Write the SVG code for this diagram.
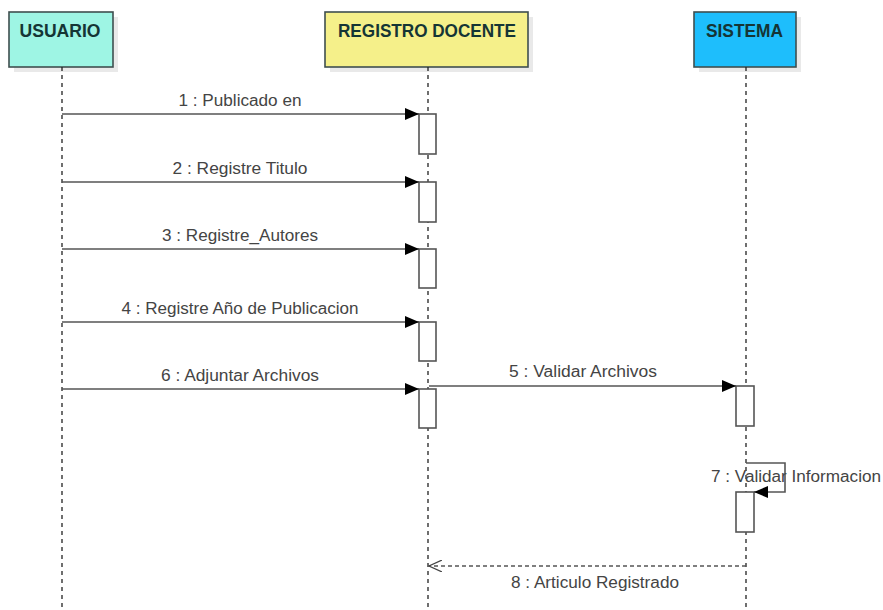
<svg xmlns="http://www.w3.org/2000/svg" width="883" height="610" viewBox="0 0 883 610">
  <defs>
    <marker id="filled" markerWidth="14" markerHeight="12" refX="14" refY="6" orient="auto" markerUnits="userSpaceOnUse">
      <path d="M0,0 L14,6 L0,12 Z" fill="#000"/>
    </marker>
    <marker id="open" markerWidth="14" markerHeight="12" refX="13" refY="6" orient="auto" markerUnits="userSpaceOnUse">
      <path d="M0,0 L13,6 L0,12" fill="none" stroke="#444" stroke-width="1.2"/>
    </marker>
  </defs>
  <style>
    .shadow { fill: #e9e9e9; }
    .head { stroke: #3f4f4f; stroke-width: 1.6; }
    .title { font-family: "Liberation Sans", Arial, sans-serif; font-size: 18px; font-weight: bold; text-anchor: middle; fill: #153535; }
    .life { stroke: #222; stroke-width: 1.3; stroke-dasharray: 4 4; fill: none; }
    .act { fill: #fff; stroke: #555; stroke-width: 1.6; }
    .msg { stroke: #555; stroke-width: 1.6; fill: none; }
    .ret { stroke: #555; stroke-width: 1.3; stroke-dasharray: 4 3; fill: none; }
    .lbl { font-family: "Liberation Sans", Arial, sans-serif; font-size: 16px; fill: #444; text-anchor: middle; }
  </style>
  <rect width="883" height="610" fill="#fff"/>

  <!-- lifeline heads -->
  <g id="usuario">
    <rect class="shadow" x="14" y="17" width="104" height="55"/>
    <rect class="head" x="9" y="12" width="104" height="55" fill="#9ef5e4"/>
    <text class="title" x="60" y="36.5" textLength="81" lengthAdjust="spacingAndGlyphs">USUARIO</text>
    <line class="life" x1="62" y1="67" x2="62" y2="610"/>
  </g>
  <g id="registro-docente">
    <rect class="shadow" x="330" y="17" width="203" height="55"/>
    <rect class="head" x="325" y="12" width="203" height="55" fill="#f5f08a"/>
    <text class="title" x="427" y="36.5" textLength="178" lengthAdjust="spacingAndGlyphs">REGISTRO DOCENTE</text>
    <line class="life" x1="428" y1="67" x2="428" y2="610"/>
  </g>
  <g id="sistema">
    <rect class="shadow" x="699" y="17" width="102" height="55"/>
    <rect class="head" x="694" y="12" width="102" height="55" fill="#1ebefc"/>
    <text class="title" x="744.5" y="36.5" textLength="77" lengthAdjust="spacingAndGlyphs">SISTEMA</text>
    <line class="life" x1="746" y1="67" x2="746" y2="610"/>
  </g>

  <!-- activation bars -->
  <g id="activations">
    <rect class="act" x="419" y="114" width="17" height="40"/>
    <rect class="act" x="419" y="182" width="17" height="40"/>
    <rect class="act" x="419" y="249" width="17" height="39"/>
    <rect class="act" x="419" y="322" width="17" height="39"/>
    <rect class="act" x="419" y="389" width="17" height="39"/>
    <rect class="act" x="736" y="386" width="18" height="40"/>
    <rect class="act" x="736" y="492" width="18" height="40"/>
  </g>

  <!-- messages -->
  <g id="connectors">
    <line class="msg" x1="62" y1="114" x2="419" y2="114" marker-end="url(#filled)"/>
    <line class="msg" x1="62" y1="182" x2="419" y2="182" marker-end="url(#filled)"/>
    <line class="msg" x1="62" y1="249" x2="419" y2="249" marker-end="url(#filled)"/>
    <line class="msg" x1="62" y1="322" x2="419" y2="322" marker-end="url(#filled)"/>
    <line class="msg" x1="62" y1="389" x2="419" y2="389" marker-end="url(#filled)"/>
    <line class="msg" x1="429" y1="386" x2="736" y2="386" marker-end="url(#filled)"/>
    <path class="msg" d="M746,463 H785 V492 H754" marker-end="url(#filled)"/>
    <line class="ret" x1="746" y1="566" x2="429" y2="566" marker-end="url(#open)"/>
  </g>

  <!-- message labels -->
  <g id="labels">
    <text class="lbl" x="240" y="106" textLength="123" lengthAdjust="spacingAndGlyphs">1 : Publicado en</text>
    <text class="lbl" x="240" y="174" textLength="135" lengthAdjust="spacingAndGlyphs">2 : Registre Titulo</text>
    <text class="lbl" x="240" y="241" textLength="156" lengthAdjust="spacingAndGlyphs">3 : Registre_Autores</text>
    <text class="lbl" x="240" y="314" textLength="237" lengthAdjust="spacingAndGlyphs">4 : Registre Año de Publicacion</text>
    <text class="lbl" x="240" y="381" textLength="158" lengthAdjust="spacingAndGlyphs">6 : Adjuntar Archivos</text>
    <text class="lbl" x="583" y="377" textLength="148" lengthAdjust="spacingAndGlyphs">5 : Validar Archivos</text>
    <text class="lbl" x="796" y="482" textLength="170" lengthAdjust="spacingAndGlyphs">7 : Validar Informacion</text>
    <text class="lbl" x="595" y="588" textLength="168" lengthAdjust="spacingAndGlyphs">8 : Articulo Registrado</text>
  </g>
</svg>
